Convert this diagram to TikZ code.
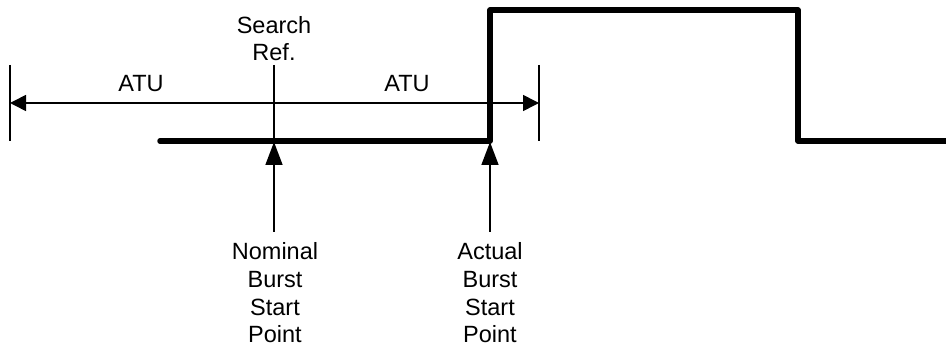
\documentclass[tikz,border=0pt]{standalone}
\usepackage{fontspec}
\setmainfont{Liberation Sans}
\usetikzlibrary{arrows.meta}
\begin{document}
\begin{tikzpicture}[x=1pt,y=-1pt,
  thin line/.style={line width=1.6pt},
  signal/.style={line width=5.5pt,line cap=round,line join=round},
  harrow/.style={thin line,{Triangle[length=16pt,width=16pt]}-{Triangle[length=16pt,width=16pt]}},
  varrow/.style={thin line,-{Triangle[length=23pt,width=17pt]}},
  lbl/.style={font=\fontsize{23.5}{27.7}\selectfont,inner sep=0pt,align=center}]
\useasboundingbox (0,0) rectangle (946,347);
% ticks
\coordinate (lt) at (10,65); \coordinate (lb) at (10,141);
\coordinate (rt) at (539,65); \coordinate (rb) at (539,141);
\draw[thin line] (lt) -- (lb);
\draw[thin line] (rt) -- (rb);
\coordinate (al) at (10,103); \coordinate (ar) at (539,103);
\draw[harrow] (al) -- (ar);
% signal
\coordinate (s0) at (160,141); \coordinate (s1) at (490,141);
\coordinate (s2) at (490,10); \coordinate (s3) at (798,10);
\coordinate (s4) at (798,141); \coordinate (s5) at (950,141);
\draw[signal] (s0) -- (s1) -- (s2) -- (s3) -- (s4) -- (s5);
% search ref line
\coordinate (srt) at (274,65); \coordinate (srb) at (274,141);
\draw[thin line] (srt) -- (srb);
% upward arrows
\coordinate (nb) at (274,232); \coordinate (nt) at (274,142);
\coordinate (ab) at (490,232); \coordinate (at) at (490,142);
\draw[varrow] (nb) -- (nt);
\draw[varrow] (ab) -- (at);
% labels
\node[lbl,anchor=base] (atul) at (141,92) {ATU};
\node[lbl,anchor=base] (atur) at (407,92) {ATU};
\node[lbl,anchor=base] (sr) at (274,61) {Search\\Ref.};
\node[lbl,anchor=base] (nom) at (275,343) {Nominal\\Burst\\Start\\Point};
\node[lbl,anchor=base] (act) at (490,343) {Actual\\Burst\\Start\\Point};
\end{tikzpicture}
\end{document}
